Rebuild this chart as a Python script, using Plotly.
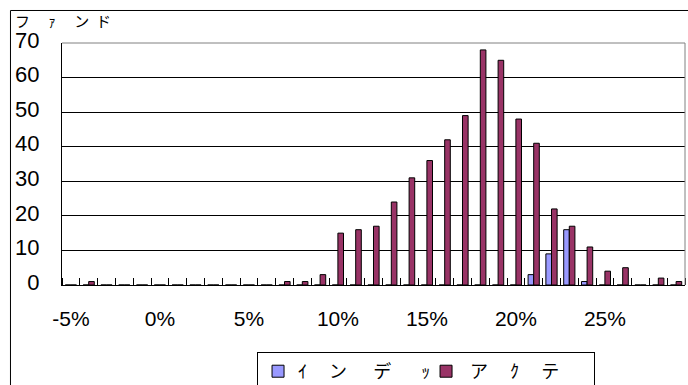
import plotly.graph_objects as go

# Return bins (%) and number of funds in each bin
bins = list(range(-5, 30))
index_funds = [0, 0, 0, 0, 0, 0, 0, 0, 0, 0,
               0, 0, 0, 0, 0, 0, 0, 0, 0, 0,
               0, 0, 0, 0, 0, 0, 3, 9, 16, 1,
               0, 0, 0, 0, 0]
active_funds = [0, 1, 0, 0, 0, 0, 0, 0, 0, 0,
                0, 0, 1, 1, 3, 15, 16, 17, 24, 31,
                36, 42, 49, 68, 65, 48, 41, 22, 17, 11,
                4, 5, 0, 2, 1]
tick_bins = [-5, 0, 5, 10, 15, 20, 25]
tick_text = ["-5%", "0%", "5%", "10%", "15%", "20%", "25%"]

name_index = "ｲ\u3000\u00a0ン\u3000\u00a0\u00a0デ\u3000\u00a0\u00a0\u00a0ｯ"
name_active = "\u00a0ア\u3000\u00a0ｸ\u3000\u00a0テ"
y_title = "フ\u3000\u00a0ｧ\u3000\u00a0ン\u00a0\u00a0ド"

fig = go.Figure()
fig.add_trace(go.Bar(x=bins, y=index_funds, name=name_index,
                     marker=dict(color="#9999FF", line=dict(color="#000000", width=1))))
fig.add_trace(go.Bar(x=bins, y=active_funds, name=name_active,
                     marker=dict(color="#993366", line=dict(color="#000000", width=1))))

fig.update_layout(
    width=688, height=385,
    margin=dict(l=62, r=3, t=43, b=100),
    paper_bgcolor="white", plot_bgcolor="white",
    barmode="group", bargap=0.37, bargroupgap=0,
    font=dict(family="Liberation Sans, Arial, Noto Sans CJK JP", color="#000000"),
    showlegend=True,
    legend=dict(orientation="h", xref="container", yref="container",
                x=0.3736, xanchor="left", y=0.0857, yanchor="top",
                entrywidth=123, entrywidthmode="pixels",
                bordercolor="#000000", borderwidth=1, bgcolor="white",
                font=dict(family="Noto Sans CJK JP", size=18)),
)

fig.update_xaxes(
    range=[-5.5, 29.5], tickmode="array", tickvals=tick_bins, ticktext=tick_text,
    ticks="", showgrid=False, zeroline=False,
    showline=True, linecolor="#000000", linewidth=1,
    tickfont=dict(size=21), ticklabelstandoff=15,
    minor=dict(ticks="inside", ticklen=7, tickcolor="#000000", tick0=-5.5, dtick=1,
               showgrid=False),
)
fig.update_yaxes(
    range=[0, 70], dtick=10, showgrid=True, gridcolor="#000000", gridwidth=1,
    zeroline=False, showline=True, linecolor="#000000", linewidth=1,
    ticks="inside", ticklen=8, tickcolor="#000000",
    tickfont=dict(size=22), ticklabelstandoff=17, ticklabelshift=-3,
)

# gray frame on the top and right of the plot area
fig.add_shape(type="path", xref="paper", yref="paper",
              path="M 0,1 L 1,1 L 1,0", line=dict(color="#808080", width=1))
# outer chart border
fig.add_shape(type="rect", xref="paper", yref="paper",
              x0=-0.0827, x1=1.1, y0=-0.6, y1=1.1343,
              line=dict(color="#000000", width=1), layer="below")

fig.add_annotation(text=y_title, xref="paper", yref="paper",
                   x=-0.0787, y=1.092, xanchor="left", yanchor="middle",
                   showarrow=False, font=dict(family="Noto Sans CJK JP", size=15))

fig.write_html("out.html")
